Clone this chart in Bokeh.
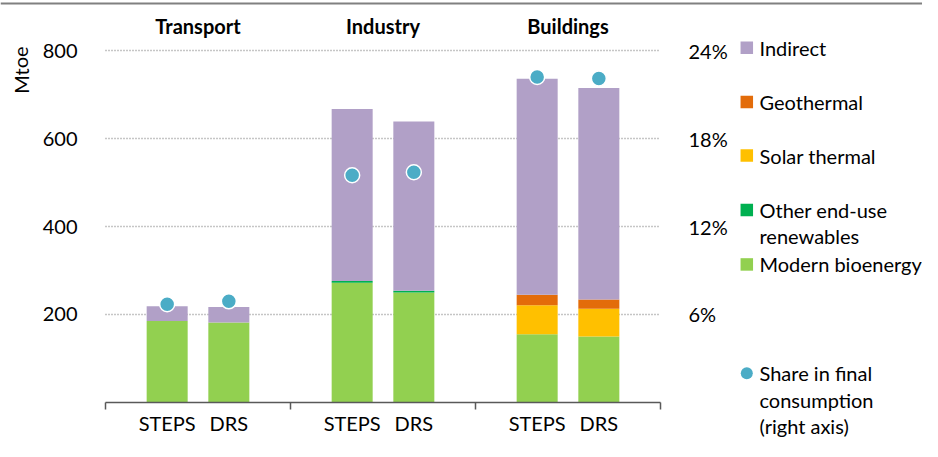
from bokeh.plotting import figure
from bokeh.models import (Range1d, LinearAxis, FixedTicker, Span,
                          ColumnDataSource, PrintfTickFormatter)
from bokeh.embed import file_html
from bokeh.resources import INLINE
from bokeh.core.properties import value

# ---------------- data ----------------
sectors = ["Transport", "Industry", "Buildings"]
scenarios = ["STEPS", "DRS"]
modern_bioenergy = [185, 182, 272, 250, 155, 150]
other_end_use = [0, 0, 4, 4, 0, 0]
solar_thermal = [0, 0, 0, 0, 66, 63]
geothermal = [0, 0, 0, 0, 24, 21]
indirect = [34, 35, 391, 385, 491, 481]
share_pct = [6.7, 6.9, 15.5, 15.7, 22.2, 22.1]
left_ticks = [200, 400, 600, 800]
right_ticks = [6, 12, 18, 24]
axis_max = 800
share_max = 24

series_names = ["Modern bioenergy", "Other end-use renewables", "Solar thermal",
                "Geothermal", "Indirect"]
series_values = [modern_bioenergy, other_end_use, solar_thermal, geothermal, indirect]
series_colors = ["#92D050", "#00B050", "#FFC000", "#E36C0A", "#B1A0C7"]
dot_color = "#4BACC6"

legend_labels = [["Indirect"], ["Geothermal"], ["Solar thermal"],
                 ["Other end-use", "renewables"], ["Modern bioenergy"],
                 ["Share in final", "consumption", "(right axis)"]]
legend_colors = ["#B1A0C7", "#E36C0A", "#FFC000", "#00B050", "#92D050", dot_color]
legend_markers = ["square", "square", "square", "square", "square", "circle"]

FONT = "Lato"
FS = "20px"
TXT = "#000000"

# ---------------- layout (pixels) ----------------
W, H = 922, 441
GROUP_W = 6                       # x units per sector group
XMAX = GROUP_W * len(sectors)
PLOT_L, PLOT_R = 105, 660         # pixel extent of the bar area
VK = 0.972                        # slight vertical compression to fit the window


def vy(y):
    return 1.5 + (y - 7) * VK


ZERO_PX, TOP_PX = vy(419), vy(57)
PPU = (ZERO_PX - TOP_PX) / axis_max          # pixels per Mtoe


def X(px):
    return (px - PLOT_L) / (PLOT_R - PLOT_L) * XMAX


def Y(py):
    return (ZERO_PX - py) / PPU


offsets = [2, 4]
xs = [g * GROUP_W + o for g in range(len(sectors)) for o in offsets]
labels_x = [s for _ in sectors for s in scenarios]

data = {"x": xs}
for n, v in zip(series_names, series_values):
    data[n] = v
src = ColumnDataSource(data)

p = figure(width=W, height=H, output_backend="svg", toolbar_location=None,
           title=None, x_range=Range1d(X(0), X(W)), y_range=Range1d(Y(H), Y(0)),
           min_border=0, outline_line_color=None)
p.extra_y_ranges = {"share": Range1d(Y(H) / axis_max * share_max,
                                     Y(0) / axis_max * share_max)}

# dotted gridlines over the bar area only
p.segment(x0=[0] * len(left_ticks), x1=[XMAX] * len(left_ticks),
          y0=left_ticks, y1=left_ticks, line_color="#8c8c8c",
          line_dash="1 2", line_width=1.5)
p.grid.visible = False

p.vbar_stack(series_names, x="x", width=1.33, fill_color=series_colors,
             line_color=None, source=src)

p.scatter(xs, share_pct, y_range_name="share", size=15, fill_color=dot_color,
          line_color="white", line_width=1.5)

# top rule
p.add_layout(Span(location=Y(3), dimension="width", line_color="#808080",
                  line_width=2))

# sector titles
p.text(x=[g * GROUP_W + GROUP_W / 2 for g in range(len(sectors))],
       y=[Y(vy(32))] * len(sectors), text=sectors, text_align="center",
       text_baseline="middle", text_font=value(FONT), text_font_size=FS,
       text_font_style="bold", text_color=TXT)

# unit label
p.text(x=[X(20)], y=[Y(vy(77))], text=["Mtoe"], angle=1.5708, text_align="center",
       text_baseline="middle", text_font=value(FONT), text_font_size=FS,
       text_color=TXT)

# left axis (fixed at the left edge of the bar area)
ya = p.yaxis[0]
ya.fixed_location = 0
ya.ticker = FixedTicker(ticks=left_ticks)
ya.axis_line_color = None
ya.major_tick_line_color = None
ya.minor_tick_line_color = None
ya.major_label_standoff = 22
ya.major_label_text_font = FONT
ya.major_label_text_font_size = FS
ya.major_label_text_color = TXT

# right axis
ra = LinearAxis(y_range_name="share", ticker=FixedTicker(ticks=right_ticks),
                formatter=PrintfTickFormatter(format="%d%%"), fixed_location=XMAX)
ra.axis_line_color = None
ra.major_tick_line_color = None
ra.minor_tick_line_color = None
ra.major_label_standoff = 22
ra.major_label_text_font = FONT
ra.major_label_text_font_size = FS
ra.major_label_text_color = TXT
p.add_layout(ra, "right")

# bottom axis
xa = p.xaxis[0]
xa.fixed_location = 0
xa.bounds = (0, XMAX)
xa.ticker = FixedTicker(ticks=xs, minor_ticks=[g * GROUP_W for g in range(len(sectors) + 1)])
xa.major_label_overrides = {x: l for x, l in zip(xs, labels_x)}
xa.axis_line_color = "#595959"
xa.axis_line_width = 1.5
xa.major_tick_line_color = None
xa.major_tick_out = 0
xa.major_tick_in = 0
xa.minor_tick_line_color = "#595959"
xa.minor_tick_line_width = 1.5
xa.minor_tick_out = 7
xa.minor_tick_in = 0
xa.major_label_standoff = 2
xa.major_label_text_font = FONT
xa.major_label_text_font_size = FS
xa.major_label_text_color = TXT

# legend (drawn with glyphs to the right of the share axis)
LINE_STEP = 27
for lines, col, mk, yc in zip(legend_labels, legend_colors, legend_markers,
                              [54, 110, 165, 221, 277, 389]):
    p.scatter([X(746.3)], [Y(vy(yc))], marker=mk, size=(12.5 if mk == "square" else 12),
              fill_color=col, line_color=None)
    p.text(x=[X(759)] * len(lines),
           y=[Y(vy(yc + i * LINE_STEP)) for i in range(len(lines))],
           text=lines, text_align="left", text_baseline="middle",
           text_font=value(FONT), text_font_size=FS, text_color=TXT)

open("out.html", "w").write(file_html(p, INLINE))
